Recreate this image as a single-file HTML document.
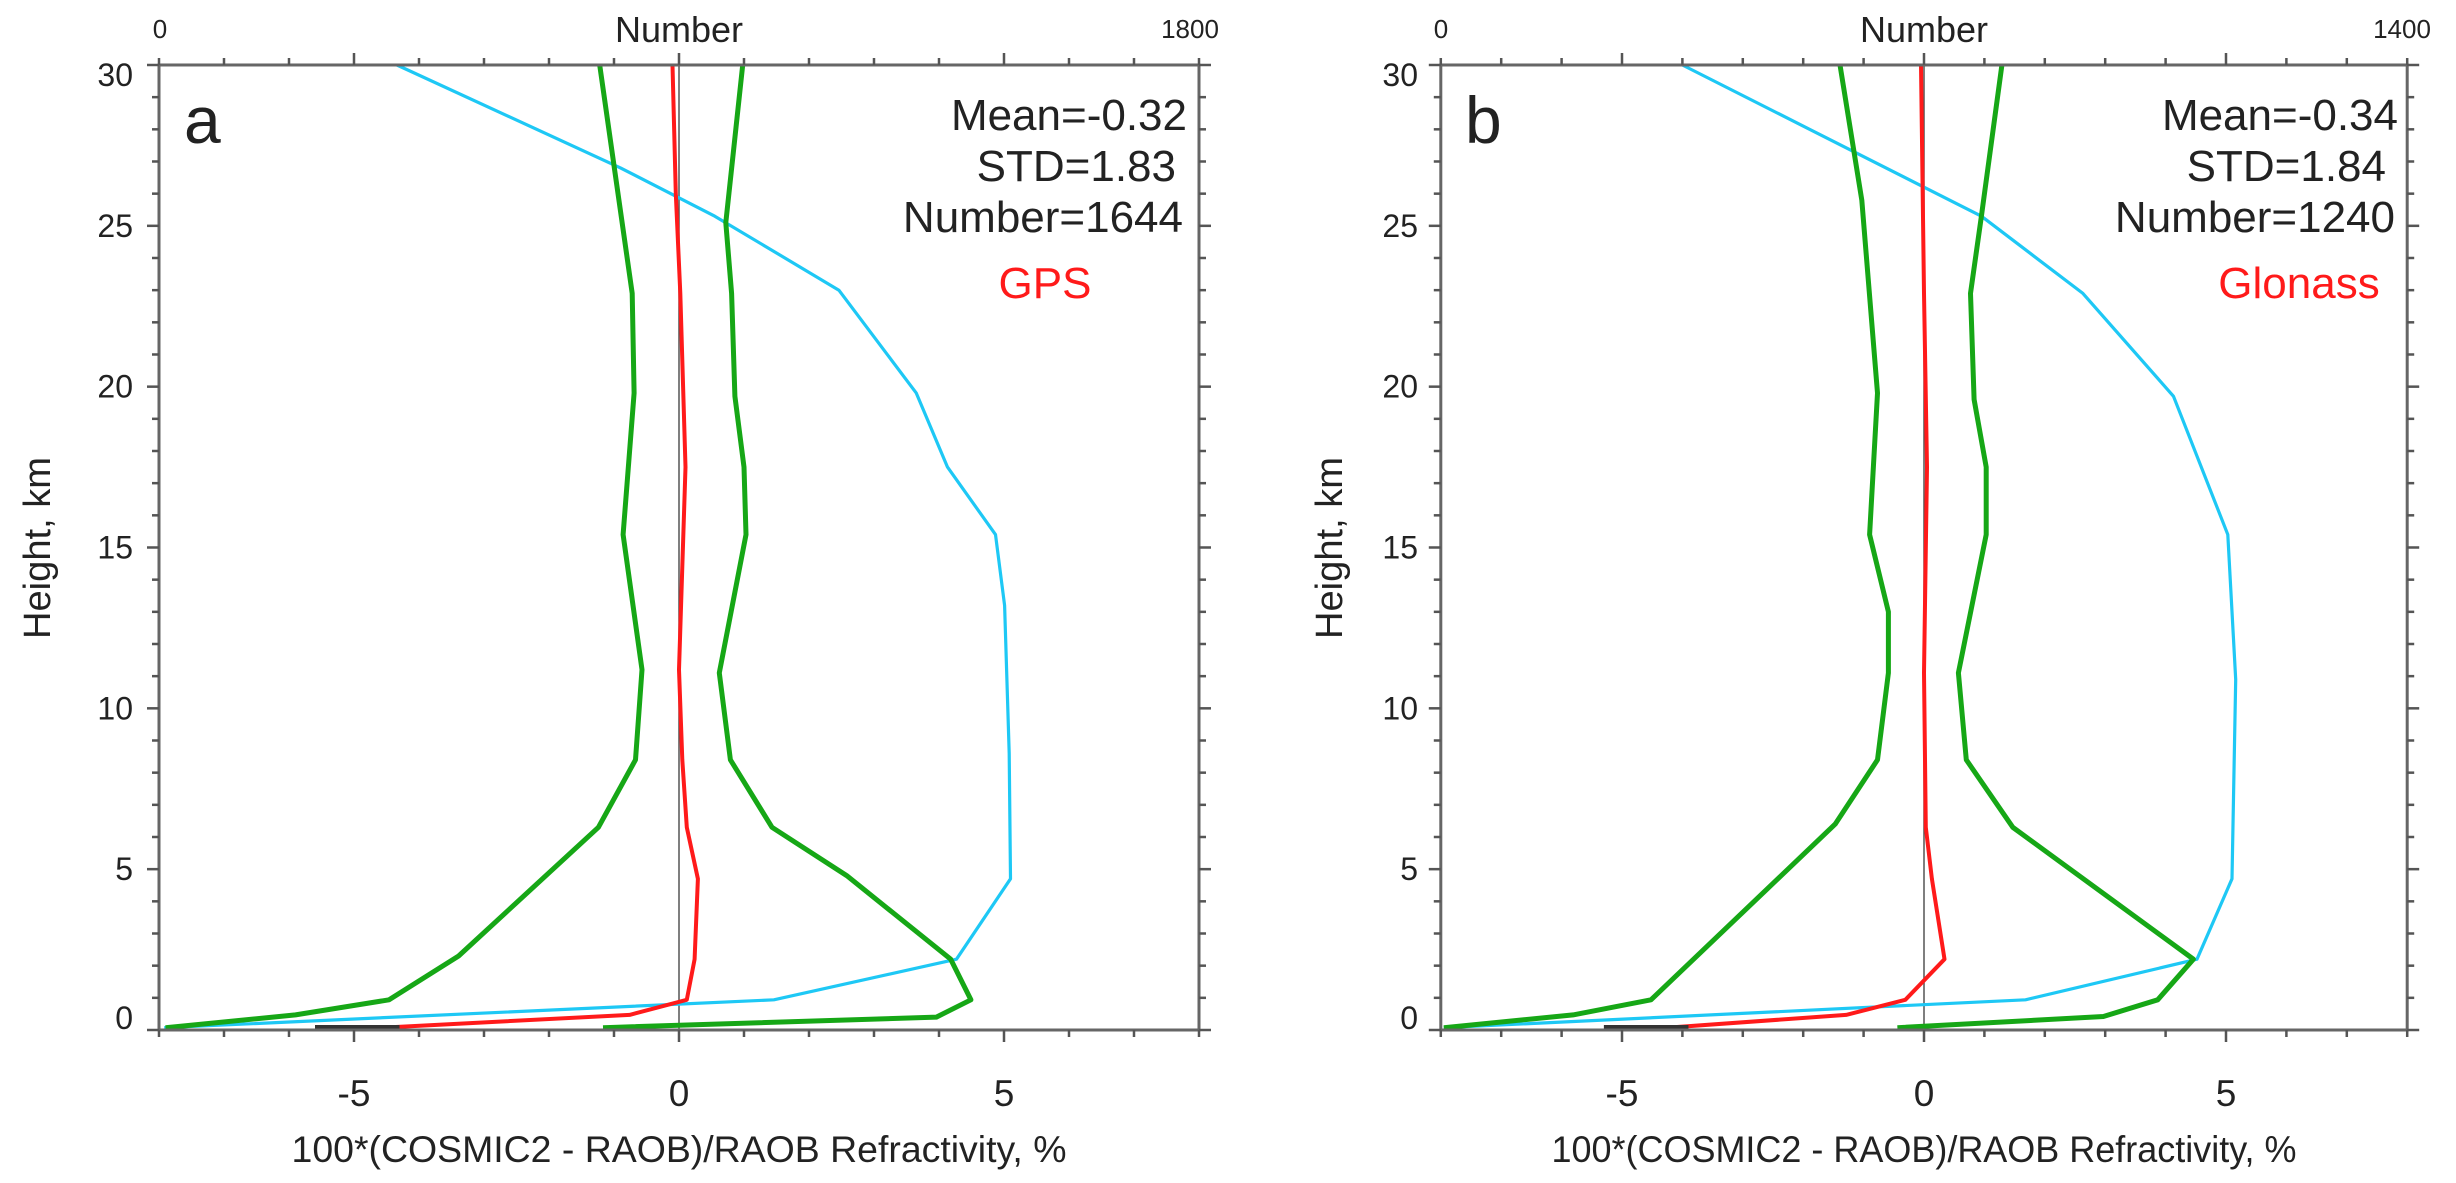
<!DOCTYPE html>
<html><head><meta charset="utf-8">
<style>
html,body{margin:0;padding:0;background:#fff;}
svg{display:block;}
text{font-family:"Liberation Sans",sans-serif;fill:#222;}
</style></head>
<body>
<svg id="s" width="2456" height="1183" viewBox="0 0 2456 1183" xmlns="http://www.w3.org/2000/svg">
<text x="160" y="38" font-size="26" text-anchor="middle">0</text>
<text x="679" y="42" font-size="36" text-anchor="middle">Number</text>
<text x="1190" y="38" font-size="26" text-anchor="middle">1800</text>
<text x="184" y="143" font-size="66">a</text>
<text x="1187" y="130" font-size="44" text-anchor="end">Mean=-0.32</text>
<text x="1176" y="181" font-size="44" text-anchor="end">STD=1.83</text>
<text x="1183" y="232" font-size="44" text-anchor="end">Number=1644</text>
<text x="1045" y="298" font-size="44" text-anchor="middle" style="fill:#ff1a1a">GPS</text>
<text x="37" y="548" font-size="38" text-anchor="middle" transform="rotate(-90 37 548)" dy="13" textLength="182" lengthAdjust="spacingAndGlyphs">Height, km</text>
<text x="679" y="1162" font-size="37" text-anchor="middle" textLength="775" lengthAdjust="spacingAndGlyphs">100*(COSMIC2 - RAOB)/RAOB Refractivity, %</text>
<text x="1441" y="38" font-size="26" text-anchor="middle">0</text>
<text x="1924" y="42" font-size="36" text-anchor="middle">Number</text>
<text x="2402" y="38" font-size="26" text-anchor="middle">1400</text>
<text x="1465" y="143" font-size="66">b</text>
<text x="2398" y="130" font-size="44" text-anchor="end">Mean=-0.34</text>
<text x="2386" y="181" font-size="44" text-anchor="end">STD=1.84</text>
<text x="2395" y="232" font-size="44" text-anchor="end">Number=1240</text>
<text x="2299" y="298" font-size="44" text-anchor="middle" style="fill:#ff1a1a">Glonass</text>
<text x="1329" y="548" font-size="38" text-anchor="middle" transform="rotate(-90 1329 548)" dy="13" textLength="182" lengthAdjust="spacingAndGlyphs">Height, km</text>
<text x="1924" y="1162" font-size="37" text-anchor="middle" textLength="745" lengthAdjust="spacingAndGlyphs">100*(COSMIC2 - RAOB)/RAOB Refractivity, %</text>
<g id="g"></g>
</svg>
<script>
var NS="http://www.w3.org/2000/svg",g=document.getElementById('g');
function el(t,a,txt){var e=document.createElementNS(NS,t);for(var k in a)e.setAttribute(k,a[k]);if(txt!==undefined)e.textContent=txt;g.appendChild(e);return e;}
function panel(P){
 var X=function(v){return P.x0+v*P.sx;},Y=function(h){return 1030-h*32.167;};
 var L=X(-8),R=X(8),T=Y(30),B=Y(0);
 el('line',{x1:X(0),y1:T,x2:X(0),y2:B,stroke:'#555','stroke-width':1.5});
 function line(pts,col,w){var d=pts.map(function(p,i){return (i?'L':'M')+X(p[0]).toFixed(1)+' '+Y(p[1]).toFixed(1);}).join(' ');
  el('path',{d:d,fill:'none',stroke:col,'stroke-width':w,'stroke-linejoin':'round'});}
 line(P.cyan,'#1ec8f5',3.2);
 line(P.gl,'#16a716',5);
 line(P.gr,'#16a716',5);
 line(P.red,'#ff1a1a',4);
 el('line',{x1:X(P.blk[0]),y1:B-3,x2:X(P.blk[1]),y2:B-3,stroke:'#333','stroke-width':4});
 el('rect',{x:L,y:T,width:R-L,height:B-T,fill:'none',stroke:'#666','stroke-width':3});
 for(var v=-8;v<=8;v++){var mj=(v%5===0),len=mj?12:7;
  el('line',{x1:X(v),y1:B,x2:X(v),y2:B+len,stroke:'#555','stroke-width':2.5});
  el('line',{x1:X(v),y1:T,x2:X(v),y2:T-len,stroke:'#555','stroke-width':2.5});}
 for(var h=0;h<=30;h++){var mj=(h%5===0),len=mj?12:7;
  el('line',{x1:L,y1:Y(h),x2:L-len,y2:Y(h),stroke:'#555','stroke-width':2.5});
  el('line',{x1:R,y1:Y(h),x2:R+len,y2:Y(h),stroke:'#555','stroke-width':2.5});
  if(mj){var cy=Y(h)+11; if(h===30)cy+=10; if(h===0)cy-=12;
   el('text',{x:P.yl,y:cy,'font-size':32,'text-anchor':'end'},String(h));}}
 [-5,0,5].forEach(function(v){el('text',{x:X(v),y:1106,'font-size':37,'text-anchor':'middle'},String(v));});
}
panel({x0:679,sx:65,yl:133,blk:[-5.6,-4.3],
 gl:[[-1.22,30],[-0.72,22.9],[-0.69,19.8],[-0.86,15.4],[-0.57,11.2],[-0.67,8.4],[-1.24,6.3],[-3.39,2.3],[-4.46,0.94],[-5.9,0.47],[-7.9,0.07]],
 gr:[[0.98,30],[0.72,25.1],[0.81,22.9],[0.86,19.7],[1.0,17.5],[1.03,15.4],[0.62,11.1],[0.79,8.4],[1.43,6.3],[2.58,4.8],[4.18,2.2],[4.49,0.94],[3.96,0.4],[-1.17,0.07]],
 red:[[-0.1,30],[-0.05,26],[0.02,22.9],[0.1,17.5],[0,11.2],[0.05,8.4],[0.12,6.3],[0.29,4.7],[0.24,2.2],[0.12,0.94],[-0.76,0.47],[-4.58,0.07]],
 cyan:[[-4.34,30],[-0.9,26.8],[0.55,25.3],[2.46,23.0],[3.65,19.8],[4.13,17.5],[4.87,15.4],[5.01,13.2],[5.08,8.6],[5.1,4.7],[4.27,2.2],[1.46,0.94],[-7.92,0.07]]});
panel({x0:1924,sx:60.4,yl:1418,blk:[-5.3,-3.9],
 gl:[[-1.39,30],[-1.03,25.8],[-0.77,19.8],[-0.9,15.4],[-0.59,13],[-0.59,11.1],[-0.77,8.4],[-1.47,6.4],[-4.52,0.94],[-5.81,0.47],[-7.95,0.07]],
 gr:[[1.29,30],[0.95,25.3],[0.77,22.9],[0.83,19.6],[1.03,17.5],[1.03,15.4],[0.57,11.1],[0.7,8.4],[1.47,6.3],[4.46,2.2],[3.87,0.94],[2.97,0.42],[-0.44,0.07]],
 red:[[-0.05,30],[0,22.9],[0.05,17.5],[0,11.1],[0.03,6.3],[0.13,4.7],[0.34,2.2],[-0.31,0.94],[-1.29,0.47],[-4.26,0.07]],
 cyan:[[-4.0,30],[0,26.2],[0.95,25.3],[2.63,22.9],[4.13,19.7],[5.03,15.4],[5.16,10.9],[5.1,4.7],[4.52,2.2],[1.68,0.94],[-7.95,0.07]]});
</script>
</body></html>
